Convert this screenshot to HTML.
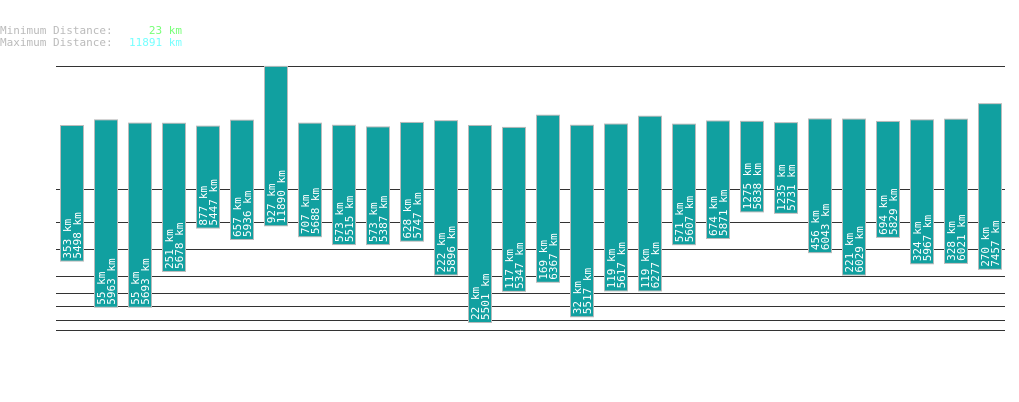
<!DOCTYPE html>
<html><head><meta charset="utf-8"><style>
body{margin:0;background:#fff;}
svg{display:block;font-family:"DejaVu Sans Mono","Liberation Mono",monospace;}
</style></head><body>
<svg id="chart" width="1019" height="402" viewBox="0 0 1019 402">
<g font-size="11">
<text x="0" y="34" fill="#bbb">Minimum Distance:</text>
<text x="182" y="34" fill="#77ff77" text-anchor="end">23 km</text>
<text x="0" y="46" fill="#bbb">Maximum Distance:</text>
<text x="182" y="46" fill="#77ffff" text-anchor="end">11891 km</text>
</g>
<g id="grid"></g>
<g id="bars"></g>
</svg>
<script>
const minValues=[353,55,55,251,877,657,927,707,573,573,628,222,22,117,169,32,119,119,571,674,1275,1235,456,221,694,324,328,270];
const maxValues=[5498,5963,5693,5678,5447,5936,11890,5688,5515,5387,5747,5896,5501,5347,6367,5517,5617,6277,5607,5871,5838,5731,6043,6029,5829,5967,6021,7457];
const gridYs=[66,189,222,249,276,293,306,320,330];
const NS="http://www.w3.org/2000/svg";
function yScale(v){return 370.3-22*Math.pow(v,0.28);}
function xScale(i){return 60+i*34;}
const grid=document.getElementById('grid');
gridYs.forEach(function(y){
  const l=document.createElementNS(NS,'line');
  
  
  l.setAttribute('x1',56);l.setAttribute('x2',1005);
  l.setAttribute('y1',y+0.5);l.setAttribute('y2',y+0.5);
  l.setAttribute('stroke','#333');l.setAttribute('stroke-width',1);
  grid.appendChild(l);
});
const bars=document.getElementById('bars');
minValues.forEach(function(mn,i){
  const mx=maxValues[i];
  const x=xScale(i),top=yScale(mx),bot=yScale(mn)+4;
  const g=document.createElementNS(NS,'g');
  
  
  const r=document.createElementNS(NS,'rect');
  
  
  r.setAttribute('x',x+0.5);r.setAttribute('y',top+0.5);
  r.setAttribute('width',23);r.setAttribute('height',bot-top);
  r.setAttribute('fill','#11a0a0');r.setAttribute('stroke','#bbb');r.setAttribute('stroke-width',1);
  g.appendChild(r);
  [[mn,11],[mx,21]].forEach(function(p){
    const t=document.createElementNS(NS,'text');
    
    
    const tx=x+p[1],ty=bot-2;
    t.setAttribute('x',tx);t.setAttribute('y',ty);
    t.setAttribute('transform','rotate(-90 '+tx+' '+ty+')');
    t.setAttribute('fill','#fff');t.setAttribute('font-size','11');
    t.textContent=p[0]+' km';
    g.appendChild(t);
  });
  bars.appendChild(g);
});
</script>
</body></html>
